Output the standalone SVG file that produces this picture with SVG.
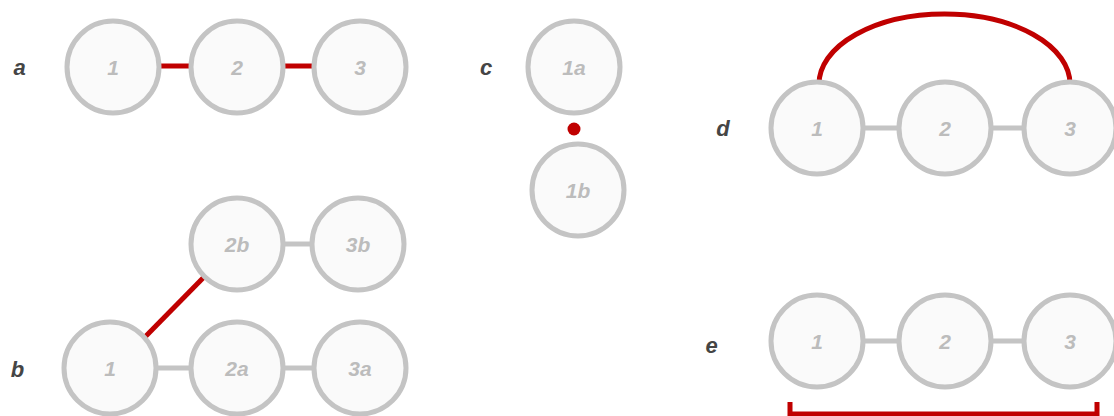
<svg xmlns="http://www.w3.org/2000/svg" width="1114" height="416" viewBox="0 0 1114 416">
<style>
.node{fill:#fafafa;stroke:#c4c4c4;stroke-width:5}
.nt{font-family:"Liberation Sans",Arial,sans-serif;font-size:21px;font-weight:bold;font-style:italic;fill:#bcbcbc;text-anchor:middle}
.lbl{font-family:"Liberation Sans",Arial,sans-serif;font-size:22px;font-weight:bold;font-style:italic;fill:#454545;text-anchor:middle}
.g{stroke:#c4c4c4;stroke-width:5;fill:none}
.r{stroke:#c00000;stroke-width:5;fill:none}
</style>
<rect width="1114" height="416" fill="#fff"/>
<g id="connectors">
<line class="r" x1="161" y1="66" x2="190" y2="66"/>
<line class="r" x1="284" y1="66" x2="314" y2="66"/>
<circle cx="574" cy="129" r="6.5" fill="#c00000"/>
<path class="r" d="M819,84 A125.5,70 0 0 1 1070,84"/>
<line class="g" x1="863" y1="128" x2="899" y2="128"/>
<line class="g" x1="991" y1="128" x2="1025" y2="128"/>
<line class="g" x1="863" y1="341" x2="899" y2="341"/>
<line class="g" x1="991" y1="341" x2="1025" y2="341"/>
<path class="r" d="M790,402 V414 H1097 V402"/>
<line class="r" x1="145" y1="337" x2="204" y2="277"/>
<line class="g" x1="283" y1="244" x2="311" y2="244"/>
<line class="g" x1="157" y1="368" x2="191" y2="368"/>
<line class="g" x1="283" y1="368" x2="315" y2="368"/>
</g>
<g id="label-a"><text class="lbl" x="19.5" y="75">a</text></g>
<g id="label-b"><text class="lbl" x="17.5" y="377">b</text></g>
<g id="label-c"><text class="lbl" x="486" y="75">c</text></g>
<g id="label-d"><text class="lbl" x="723" y="136">d</text></g>
<g id="label-e"><text class="lbl" x="711.5" y="353">e</text></g>
<g id="a1"><circle class="node" cx="113" cy="67" r="46"/><text class="nt" x="113" y="75">1</text></g>
<g id="a2"><circle class="node" cx="237" cy="67" r="46"/><text class="nt" x="237" y="75">2</text></g>
<g id="a3"><circle class="node" cx="360" cy="67" r="46"/><text class="nt" x="360" y="75">3</text></g>
<g id="c1a"><circle class="node" cx="574" cy="67" r="46"/><text class="nt" x="574" y="75">1a</text></g>
<g id="c1b"><circle class="node" cx="578" cy="190" r="46"/><text class="nt" x="578" y="198">1b</text></g>
<g id="d1"><circle class="node" cx="817" cy="128" r="46"/><text class="nt" x="817" y="136">1</text></g>
<g id="d2"><circle class="node" cx="945" cy="128" r="46"/><text class="nt" x="945" y="136">2</text></g>
<g id="d3"><circle class="node" cx="1070" cy="128" r="46"/><text class="nt" x="1070" y="136">3</text></g>
<g id="e1"><circle class="node" cx="817" cy="341" r="46"/><text class="nt" x="817" y="349">1</text></g>
<g id="e2"><circle class="node" cx="945" cy="341" r="46"/><text class="nt" x="945" y="349">2</text></g>
<g id="e3"><circle class="node" cx="1070" cy="341" r="46"/><text class="nt" x="1070" y="349">3</text></g>
<g id="b2b"><circle class="node" cx="237" cy="244" r="46"/><text class="nt" x="237" y="252">2b</text></g>
<g id="b3b"><circle class="node" cx="358" cy="244" r="46"/><text class="nt" x="358" y="252">3b</text></g>
<g id="b1"><circle class="node" cx="110" cy="368" r="46"/><text class="nt" x="110" y="376">1</text></g>
<g id="b2a"><circle class="node" cx="237" cy="368" r="46"/><text class="nt" x="237" y="376">2a</text></g>
<g id="b3a"><circle class="node" cx="360" cy="368" r="46"/><text class="nt" x="360" y="376">3a</text></g>
</svg>
